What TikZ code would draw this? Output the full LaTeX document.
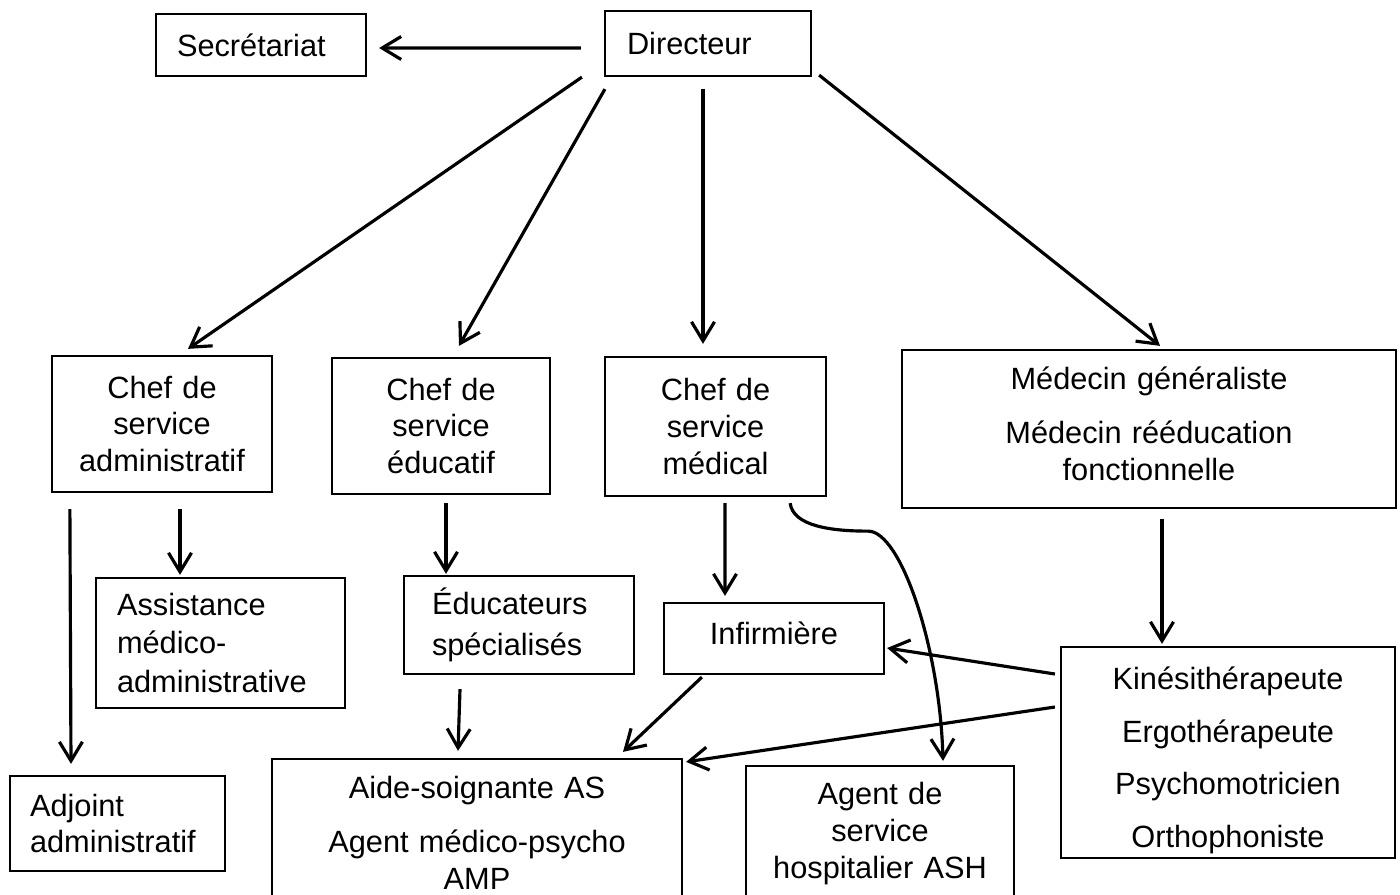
\documentclass[tikz,border=0pt]{standalone}
\usepackage{fontspec}
\setmainfont{Liberation Sans}
\usetikzlibrary{arrows.meta,calc}

\begin{document}
\begin{tikzpicture}[x=0.02cm,y=-0.02cm,
  boite/.style={draw,line width=1.3pt,inner sep=0pt,font=\fontsize{17.5}{21}\selectfont},
  fleche/.style={line width=1.8pt,-{Straight Barb[length=3.8mm,width=4.6mm]}}]
\useasboundingbox (0,0) rectangle (1400,895);
\clip (0,0) rectangle (1400,895);
% direction
\node[boite,text width=3.36cm,inner xsep=0.42cm,minimum height=1.24cm,align=left] (secr) at (261,45) {Secrétariat};
\node[boite,text width=3.24cm,inner xsep=0.44cm,minimum height=1.3cm,align=left] (dir) at (708,43.5) {Directeur};
% chefs de service
\node[boite,text width=4.4cm,minimum height=2.72cm,align=center] (csa) at (162,424) {Chef de\\service\\administratif};
\node[boite,text width=4.36cm,minimum height=2.72cm,align=center] (cse) at (441,426) {Chef de\\service\\éducatif};
\node[boite,text width=4.42cm,minimum height=2.78cm,align=center] (csm) at (715.5,426.5) {Chef de\\service\\médical};
\node[boite,text width=9.88cm,minimum height=3.16cm,align=center] (med) at (1149,429) {Médecin généraliste\\[10pt]Médecin rééducation\\fonctionnelle\rule[-6pt]{0pt}{6pt}};
% troisieme ligne
\node[boite,text width=4.14cm,inner xsep=0.42cm,minimum height=2.6cm,align=left,font=\fontsize{17.5}{22}\selectfont] (assist) at (220.5,643) {Assistance\\médico-\\administrative};
\node[boite,text width=3.48cm,inner xsep=0.56cm,minimum height=1.96cm,align=left] (educ) at (519,625) {Éducateurs\\[2pt]spécialisés};
\node[boite,text width=4.4cm,minimum height=1.42cm,align=center] (inf) at (774,638.5) {Infirmière\rule[-6pt]{0pt}{6pt}};
\node[boite,text width=6.68cm,minimum height=4.22cm,align=center,font=\fontsize{17.5}{30}\selectfont] (kine) at (1228,752.5) {\rule{0pt}{22pt}Kinésithérapeute\\Ergothérapeute\\Psychomotricien\\Orthophoniste};
% bas
\node[boite,text width=3.5cm,inner xsep=0.4cm,minimum height=1.9cm,align=left] (adj) at (117.5,823.5) {Adjoint\\administratif};
\node[boite,text width=8.2cm,minimum height=3.12cm,align=center] (aide) at (477,837) {Aide-soignante AS\\[10pt]Agent médico-psycho\\AMP\rule[-5pt]{0pt}{5pt}};
\node[boite,text width=5.36cm,minimum height=2.7cm,align=center] (ash) at (880,833.5) {Agent de\\service\\hospitalier ASH};
% fleches du directeur
\draw[fleche] ($(dir.west)+(-23,4.5)$) -- ($(secr.east)+(12,3)$);
\draw[fleche] ($(dir.south west)+(-22,0)$) -- ($(csa.north)+(26,-6)$);
\draw[fleche] ($(dir.south west)+(1,12)$) -- ($(cse.north)+(18,-11)$);
\draw[fleche] ($(dir.south)+(-5,12)$) -- ($(csm.north)+(-12.5,-12)$);
\draw[fleche] ($(dir.south east)+(7,-2)$) -- ($(med.north)+(11,-3)$);
% fleches des chefs
\draw[fleche] ($(csa.south)+(18,16)$) -- ($(assist.north)+(-40.5,-2)$);
\draw[fleche] ($(csa.south west)+(19,16)$) -- ($(adj.north)+(-46.5,-11)$);
\draw[fleche] ($(cse.south)+(5,8)$) -- ($(educ.north)+(-73,-1)$);
\draw[fleche] ($(csm.south)+(9.5,6)$) -- ($(inf.north)+(-49,-6)$);
\draw[fleche] ($(csm.south east)+(-37,6)$) .. controls +(3,23) and +(-37,0) .. ($(csm.south east)+(41,34)$)
   .. controls +(33,0) and +(-3,-112) .. ($(ash.north)+(63,-4)$);
\draw[fleche] ($(med.south)+(13,10)$) -- ($(kine.north)+(-66,-2)$);
% vers les soignants
\draw[fleche] ($(kine.west)+(-5,-78.5)$) -- ($(inf.east)+(2,9.5)$);
\draw[fleche] ($(kine.west)+(-5,-45.5)$) -- ($(aide.north east)+(3,4)$);
\draw[fleche] ($(educ.south)+(-59,14)$) -- ($(aide.north)+(-19,-7)$);
\draw[fleche] ($(inf.south west)+(39,2)$) -- ($(aide.north)+(146,-6)$);
\end{tikzpicture}
\end{document}
